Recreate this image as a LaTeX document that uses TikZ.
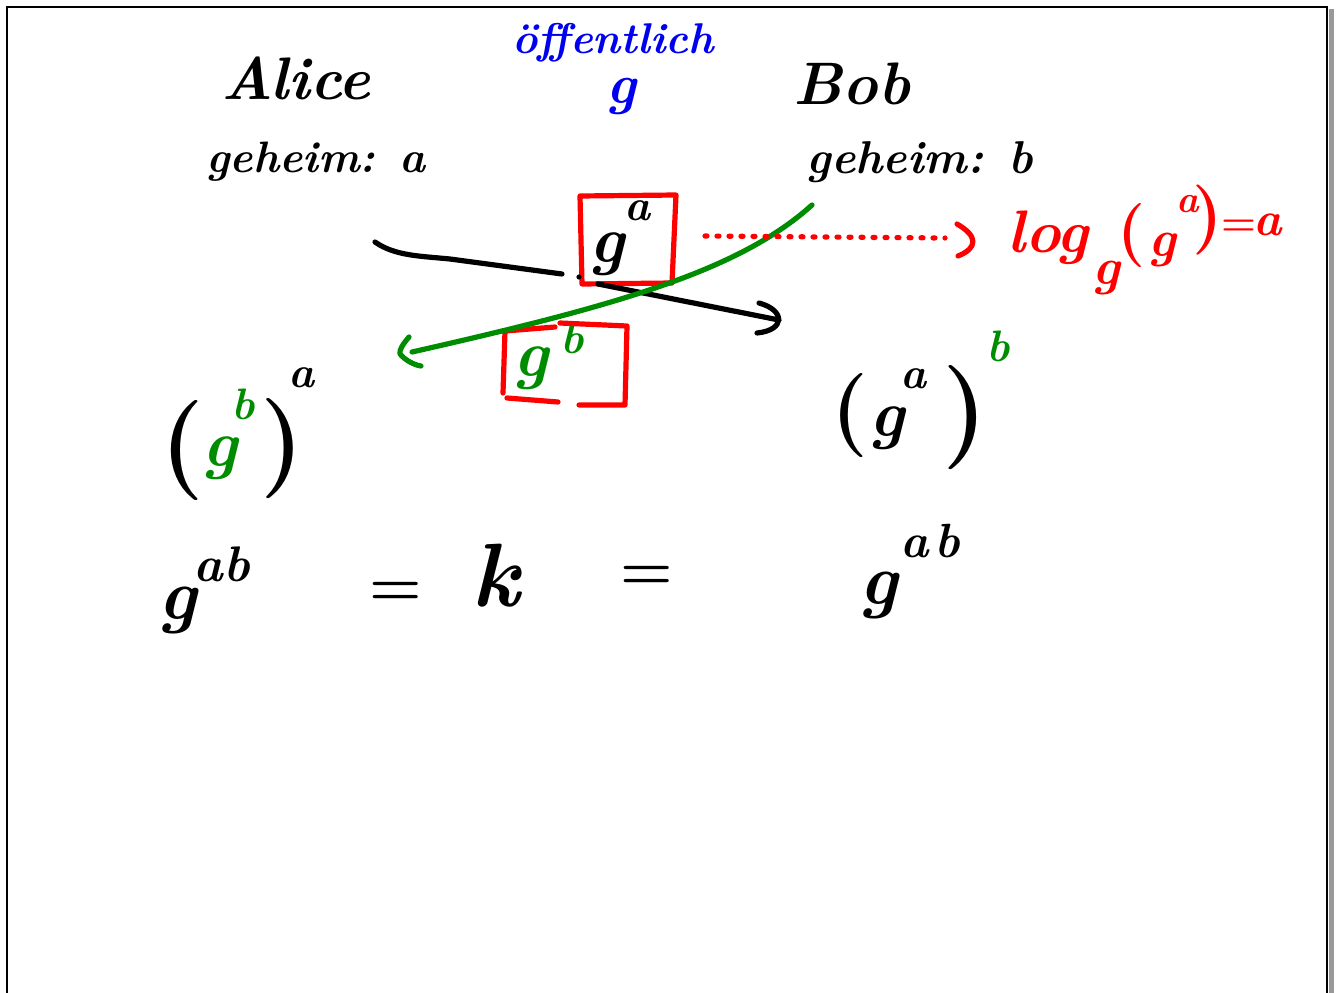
\documentclass[tikz,border=0pt]{standalone}
\usepackage{fontspec}
\definecolor{hred}{RGB}{255,0,0}
\definecolor{hblue}{RGB}{0,0,240}
\definecolor{hgreen}{RGB}{0,140,0}
\newcommand\fsz[1]{\fontsize{#1}{#1}\selectfont}
\begin{document}
\begin{tikzpicture}[x=1pt,y=-1pt,
  hand/.style={line width=5.2pt,line cap=round,line join=round},
  glyph/.style={inner sep=0pt,outer sep=0pt,anchor=center}]
\useasboundingbox (0,0) rectangle (1336,993);
\fill[white] (0,0) rectangle (1336,993);
% frame
\draw[line width=2.5pt] (7,993) -- (7,7) -- (1328,7);
\draw[gray!80,line width=5pt] (1331,9) -- (1331,993);
\draw[line width=1.2pt] (1327,7) -- (1327,993);
% headings
\node[glyph,font=\fsz{60}\bfseries\itshape] (alice) at (296,78) {Alice};
\node[glyph,font=\fsz{43}\bfseries\itshape,text=hblue] (pub) at (613,43) {öffentlich};
\node[glyph,font=\fsz{56}\bfseries\itshape,text=hblue] (pubg) at (621,96) {g};
\node[glyph,font=\fsz{60}\bfseries\itshape] (bob) at (852,84) {Bob};
\node[glyph,font=\fsz{44}\bfseries\itshape] (secA) at (316,162) {geheim: a};
\node[glyph,font=\fsz{46}\bfseries\itshape] (secB) at (920,162) {geheim: b};
% g^a in box
\node[glyph,font=\fsz{66}\bfseries\itshape] (ga1) at (607,254) {g};
\node[glyph,font=\fsz{44}\bfseries\itshape] (ga1e) at (637,211) {a};
\draw[hand,hred] (580,196) -- (676,195) -- (672,283) -- (582,284) -- cycle;
% g^b in box
\node[glyph,font=\fsz{66}\bfseries\itshape,text=hgreen] (gb1) at (531,368) {g};
\node[glyph,font=\fsz{44}\bfseries\itshape,text=hgreen] (gb1e) at (572,338) {b};
\draw[hand,hred] (555,327) -- (505,331) -- (503,393);
\draw[hand,hred] (560,323) -- (627,326) -- (625,405) -- (579,405);
\draw[hand,hred] (507,398) -- (558,402);
% black arrow Alice -> Bob
\coordinate (aS) at (375,242);
\coordinate (aE) at (779,320);
\draw[hand] (aS) .. controls (395,256) and (420,256) .. (450,259) -- (562,274);
\fill (579,277) circle (2.6pt);
\draw[hand] (598,284) -- (aE);
\draw[hand] (759,303) .. controls (785,310) and (786,330) .. (757,333);
% green arrow Bob -> Alice
\coordinate (bS) at (812,205);
\coordinate (bE) at (412,352);
\draw[hand,hgreen] (bS) .. controls (740,270) and (620,305) .. (bE);
\draw[hand,hgreen] (409,337) .. controls (403,344) and (399,350) .. (400,354) .. controls (405,360) and (414,365) .. (421,366);
% red dotted eavesdropper
\coordinate (rS) at (705,236);
\coordinate (rE) at (945,238);
\draw[hand,hred,dash pattern=on 2pt off 10pt] (rS) -- (rE);
\draw[hand,hred] (957,224) .. controls (978,236) and (978,248) .. (958,256);
% log formula
\node[glyph,font=\fsz{60}\bfseries\itshape,text=hred] (log) at (1048,238) {log};
\node[glyph,font=\fsz{52}\bfseries\itshape,text=hred] (logsub) at (1106,278) {g};
\node[glyph,font=\fsz{64}\bfseries,text=hred] (lp1) at (1132,236) {(};
\node[glyph,font=\fsz{52}\bfseries\itshape,text=hred] (lg) at (1162,250) {g};
\node[glyph,font=\fsz{38}\bfseries\itshape,text=hred] (lge) at (1188,204) {a};
\node[glyph,font=\fsz{70}\bfseries,text=hred] (lp2) at (1208,220) {)};
\node[glyph,font=\fsz{40}\bfseries,text=hred] (leq) at (1239,228) {=};
\node[glyph,font=\fsz{48}\bfseries\itshape,text=hred] (la) at (1268,225) {a};
% Alice computes (g^b)^a
\node[glyph,font=\fsz{100}\bfseries] (ap1) at (182,451) {(};
\node[glyph,font=\fsz{66}\bfseries\itshape,text=hgreen] (ag) at (220,458) {g};
\node[glyph,font=\fsz{44}\bfseries\itshape,text=hgreen] (agb) at (243,404) {b};
\node[glyph,font=\fsz{100}\bfseries] (ap2) at (282,449) {)};
\node[glyph,font=\fsz{44}\bfseries\itshape] (aga) at (301,378) {a};
% Bob computes (g^a)^b
\node[glyph,font=\fsz{84}\bfseries] (bp1) at (850,416) {(};
\node[glyph,font=\fsz{66}\bfseries\itshape] (bg) at (887,428) {g};
\node[glyph,font=\fsz{44}\bfseries\itshape] (bga) at (913,379) {a};
\node[glyph,font=\fsz{104}\bfseries] (bp2) at (965,418) {)};
\node[glyph,font=\fsz{44}\bfseries\itshape,text=hgreen] (bgb) at (998,346) {b};
% result
\node[glyph,font=\fsz{72}\bfseries\itshape] (kg1) at (178,610) {g};
\node[glyph,font=\fsz{50}\bfseries\itshape] (kg1e) at (222,564) {ab};
\node[glyph,font=\fsz{60}\bfseries] (eq1) at (396,594) {=};
\node[glyph,font=\fsz{90}\bfseries\itshape] (k) at (495,576) {k};
\node[glyph,font=\fsz{60}\bfseries] (eq2) at (647,578) {=};
\node[glyph,font=\fsz{72}\bfseries\itshape] (kg2) at (879,595) {g};
\node[glyph,font=\fsz{48}\bfseries\itshape] (kg2e) at (930,541) {a\kern6pt b};
\end{tikzpicture}
\end{document}
